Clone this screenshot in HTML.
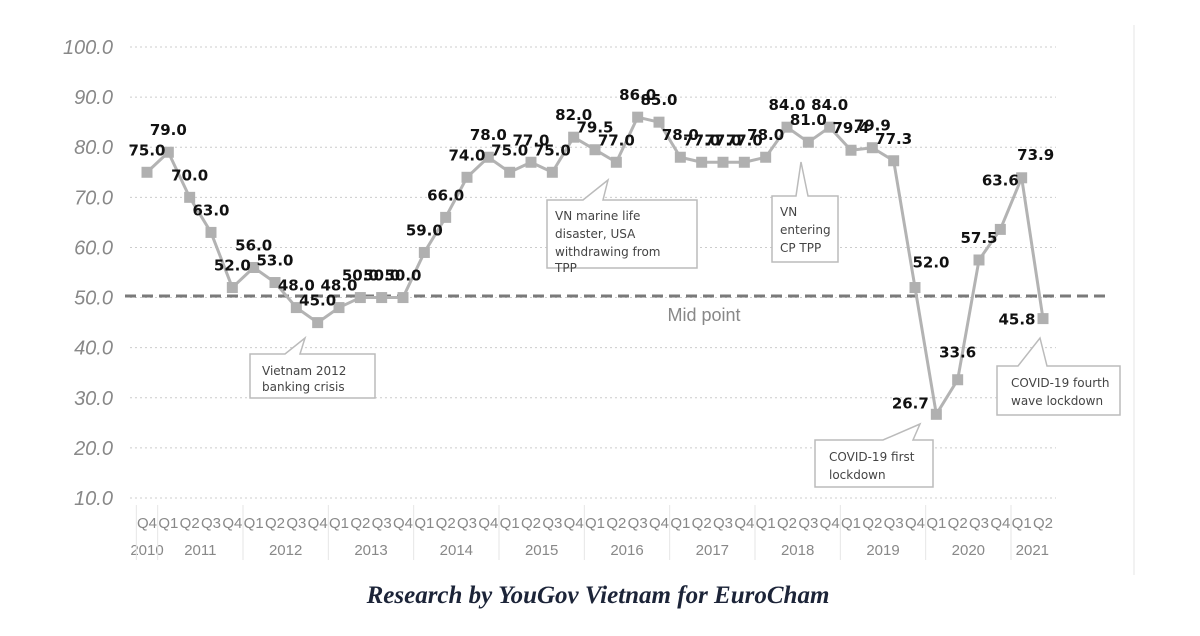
<!DOCTYPE html>
<html><head><meta charset="utf-8">
<style>
html,body{margin:0;padding:0;background:#fff;}
svg{display:block;}
</style></head>
<body>
<svg id="chart" width="1200" height="636" viewBox="0 0 1200 636" xmlns="http://www.w3.org/2000/svg" font-family="Liberation Sans, sans-serif">
<line x1="1134" y1="25" x2="1134" y2="575" stroke="#eee" stroke-width="1.5"/>
<g id="grid"></g>
<g id="yaxis"></g>
<g id="xaxis"></g>
<line x1="125" y1="296" x2="1106" y2="296" stroke="#7a7a7a" stroke-width="3" stroke-dasharray="11,6"/>
<text x="704" y="321" font-size="18" fill="#888" text-anchor="middle">Mid point</text>
<g id="callouts" font-family="DejaVu Sans, sans-serif" font-size="12" fill="#444">
<g>
<path d="M250,354 H285 L305,338 L300,354 H375 V398 H250 Z" fill="#fff" stroke="#bbb" stroke-width="1.5"/>
<text x="262" y="375">Vietnam 2012</text><text x="262" y="391">banking crisis</text></g>
<g>
<path d="M547,200 H583 L608,180 L603,200 H697 V268 H547 Z" fill="#fff" stroke="#bbb" stroke-width="1.5"/>
<text x="555" y="220">VN marine life</text><text x="555" y="238">disaster, USA</text><text x="555" y="256">withdrawing from</text><text x="555" y="272">TPP</text></g>
<g>
<path d="M772,196 H796 L801,162 L808,196 H838 V262 H772 Z" fill="#fff" stroke="#bbb" stroke-width="1.5"/>
<text x="780" y="216">VN</text><text x="780" y="234">entering</text><text x="780" y="252">CP TPP</text></g>
<g>
<path d="M815,440 H883 L920,424 L913,440 H933 V487 H815 Z" fill="#fff" stroke="#bbb" stroke-width="1.5"/>
<text x="829" y="461">COVID-19 first</text><text x="829" y="479">lockdown</text></g>
<g>
<path d="M997,366 H1018 L1040,338 L1047,366 H1120 V415 H997 Z" fill="#fff" stroke="#bbb" stroke-width="1.5"/>
<text x="1011" y="387">COVID-19 fourth</text><text x="1011" y="405">wave lockdown</text></g>
</g>
<g id="series"></g>
<g id="labels"></g>
<text x="598" y="603" text-anchor="middle" font-family="Liberation Serif, serif" font-style="italic" font-weight="bold" font-size="25" fill="#1c2438">Research by YouGov Vietnam for EuroCham</text>
</svg>
<script>
const quarters = ["Q4","Q1","Q2","Q3","Q4","Q1","Q2","Q3","Q4","Q1","Q2","Q3","Q4","Q1","Q2","Q3","Q4","Q1","Q2","Q3","Q4","Q1","Q2","Q3","Q4","Q1","Q2","Q3","Q4","Q1","Q2","Q3","Q4","Q1","Q2","Q3","Q4","Q1","Q2","Q3","Q4","Q1","Q2"];
const values = [75.0,79.0,70.0,63.0,52.0,56.0,53.0,48.0,45.0,48.0,50.0,50.0,50.0,59.0,66.0,74.0,78.0,75.0,77.0,75.0,82.0,79.5,77.0,86.0,85.0,78.0,77.0,77.0,77.0,78.0,84.0,81.0,84.0,79.4,79.9,77.3,52.0,26.7,33.6,57.5,63.6,73.9,45.8];
const years = ["2010","2011","2012","2013","2014","2015","2016","2017","2018","2019","2020","2021"];
const yearStart = [0,1,5,9,13,17,21,25,29,33,37,41];
const yearCount = [1,4,4,4,4,4,4,4,4,4,4,2];
const yTicks = [10,20,30,40,50,60,70,80,90,100];

const NS="http://www.w3.org/2000/svg";
const x0=147, step=(1043-147)/42;
const X=i=>x0+i*step;
const Y=v=>498-(v-10)*(451/90);
function mk(tag,attrs,parent,text){const e=document.createElementNS(NS,tag);for(const k in attrs)e.setAttribute(k,attrs[k]);if(text!==undefined)e.textContent=text;parent.appendChild(e);return e;}
const grid=document.getElementById('grid'),ya=document.getElementById('yaxis'),xa=document.getElementById('xaxis'),ser=document.getElementById('series'),lab=document.getElementById('labels');

yTicks.forEach(t=>{
  const g=mk('line',{x1:130,x2:1056,y1:Y(t),y2:Y(t),stroke:'#ccc','stroke-width':1,'stroke-dasharray':'2,3'},grid);
  
  
  const l=mk('text',{x:113,y:Y(t)+7,'text-anchor':'end','font-size':20,'font-style':'italic',fill:'#888'},ya,t.toFixed(1));
  
  
});

quarters.forEach((q,i)=>{
  const t=mk('text',{x:X(i),y:528,'text-anchor':'middle','font-size':15,fill:'#888'},xa,q);
  
  
});
years.forEach((y,k)=>{
  const s=yearStart[k], c=yearCount[k];
  const cx=(X(s)+X(s+c-1))/2;
  const t=mk('text',{x:cx,y:555,'text-anchor':'middle','font-size':15,fill:'#888'},xa,y);
  
  
  const bx=X(s)-step/2;
  const d=mk('line',{x1:bx,x2:bx,y1:505,y2:560,stroke:'#e6e6e6','stroke-width':1},xa);
  
  
});

const pts=values.map((v,i)=>X(i)+','+Y(v)).join(' ');
const line=mk('polyline',{points:pts,fill:'none',stroke:'#b3b3b3','stroke-width':3,'stroke-linejoin':'round'},ser);



const dx={36:16,37:-26,41:14,42:-26};
const dy={36:-20,37:-6,38:-22,40:-44,41:-18,42:6};
values.forEach((v,i)=>{
  const m=mk('rect',{x:X(i)-5.5,y:Y(v)-5.5,width:11,height:11,fill:'#b0b0b0'},ser);
  
  
  const t=mk('text',{x:X(i)+(dx[i]||0),y:Y(v)+(dy[i]!==undefined?dy[i]:-17),'text-anchor':'middle','font-size':15,'font-weight':'bold',fill:'#111','font-family':'DejaVu Sans, sans-serif'},lab,v.toFixed(1));
  
  
});
</script>
</body></html>
